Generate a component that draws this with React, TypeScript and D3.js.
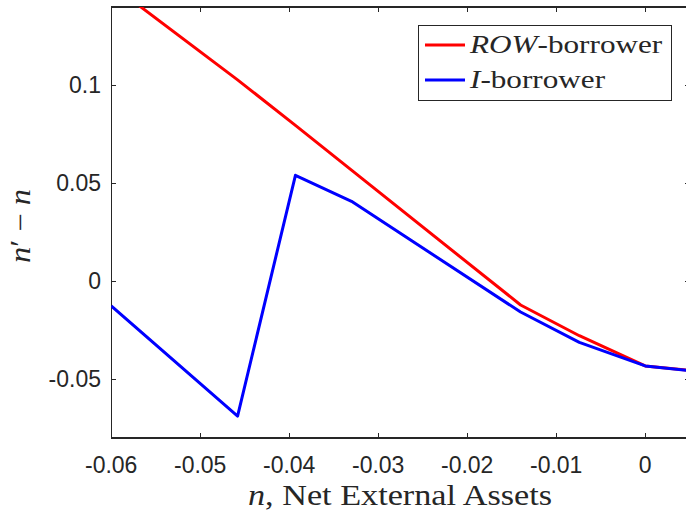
import React from "react";
import * as d3 from "d3";

const xTicks = [-0.06, -0.05, -0.04, -0.03, -0.02, -0.01, 0];
const yTicks = [-0.05, 0, 0.05, 0.1];
const xTickLabels = ["-0.06", "-0.05", "-0.04", "-0.03", "-0.02", "-0.01", "0"];
const yTickLabels = ["-0.05", "0", "0.05", "0.1"];

const rowX = [-0.0585, -0.0458, -0.0393, -0.033, -0.014, -0.0074, 0, 0.0046];
const rowY = [0.1463, 0.1028, 0.0796, 0.0567, -0.0121, -0.0278, -0.0432, -0.0453];

const iX = [-0.06, -0.0458, -0.0393, -0.033, -0.014, -0.0074, 0, 0.0046];
const iY = [-0.0126, -0.0688, 0.0541, 0.0408, -0.0157, -0.0312, -0.0432, -0.0454];

const W = 686, H = 515;
const L = 111.2, R = 689.7, T = 7, B = 438;

export default function App() {
  const x = d3.scaleLinear().domain([-0.06, 0.005]).range([L, R]);
  const y = d3.scaleLinear().domain([-0.08, 0.14]).range([B, T]);
  const line = d3.line<[number, number]>().x(d => x(d[0])).y(d => y(d[1]));
  const rowPts = rowX.map((v, i) => [v, rowY[i]] as [number, number]);
  const iPts = iX.map((v, i) => [v, iY[i]] as [number, number]);
  const axisColor = "#262626";
  const tickFont = "'Liberation Sans', Arial, sans-serif";
  const serif = "'Liberation Serif', 'Times New Roman', serif";
  const tl = 5;
  return (
    <svg width={W} height={H} style={{ position: "absolute", left: 0, top: 0, background: "#fff" }}>
      <defs>
        <clipPath id="plotclip">
          <rect x={L} y={T} width={R - L} height={B - T} />
        </clipPath>
      </defs>
      <rect x={0} y={0} width={W} height={H} fill="#fff" />
      <g stroke={axisColor} strokeWidth={1.2} fill="none" shapeRendering="crispEdges">
        <line x1={L} x2={R} y1={B} y2={B} />
        <line x1={L} x2={R} y1={T} y2={T} />
        <line x1={L} x2={L} y1={T} y2={B} />
        <line x1={R} x2={R} y1={T} y2={B} />
        {xTicks.map(t => (
          <g key={"xt" + t}>
            <line x1={x(t)} x2={x(t)} y1={B} y2={B - tl} />
            <line x1={x(t)} x2={x(t)} y1={T} y2={T + tl} />
          </g>
        ))}
        {yTicks.map(t => (
          <g key={"yt" + t}>
            <line x1={L} x2={L + tl} y1={y(t)} y2={y(t)} />
            <line x1={R} x2={R - tl} y1={y(t)} y2={y(t)} />
          </g>
        ))}
      </g>
      <g fill={axisColor} fontFamily={tickFont} fontSize={23}>
        {xTicks.map((t, i) => (
          <text key={"xl" + t} x={x(t)} y={473} textAnchor="middle">{xTickLabels[i]}</text>
        ))}
        {yTicks.map((t, i) => (
          <text key={"yl" + t} x={101} y={y(t)} dy="0.35em" textAnchor="end">{yTickLabels[i]}</text>
        ))}
      </g>
      <g clipPath="url(#plotclip)" fill="none" strokeWidth={3} strokeLinejoin="round">
        <path d={line(rowPts) || ""} stroke="#ff0000" />
        <path d={line(iPts) || ""} stroke="#0000ff" />
      </g>
      <g transform="translate(400,505) scale(1.18,1)">
        <text x={0} y={0} textAnchor="middle" fontFamily={serif} fontSize={29} fill={axisColor}>
          <tspan fontStyle="italic">n</tspan>, Net External Assets
        </text>
      </g>
      <g transform="translate(30,226) rotate(-90) scale(1.12,1)">
        <text x={0} y={0} textAnchor="middle" fontFamily={serif} fontSize={29} fill={axisColor}>
          <tspan fontStyle="italic">n</tspan>′ − <tspan fontStyle="italic">n</tspan>
        </text>
      </g>
      <rect x={418.5} y={25.5} width={253} height={75} fill="#fff" stroke={axisColor} strokeWidth={1} />
      <line x1={425} x2={465} y1={45} y2={45} stroke="#ff0000" strokeWidth={3} />
      <line x1={425} x2={465} y1={80} y2={80} stroke="#0000ff" strokeWidth={3} />
      <g transform="translate(470,53) scale(1.2,1)">
        <text x={0} y={0} fontFamily={serif} fontSize={26} fill={axisColor}>
          <tspan fontStyle="italic">ROW</tspan>-borrower
        </text>
      </g>
      <g transform="translate(470,88) scale(1.2,1)">
        <text x={0} y={0} fontFamily={serif} fontSize={26} fill={axisColor}>
          <tspan fontStyle="italic">I</tspan>-borrower
        </text>
      </g>
    </svg>
  );
}
